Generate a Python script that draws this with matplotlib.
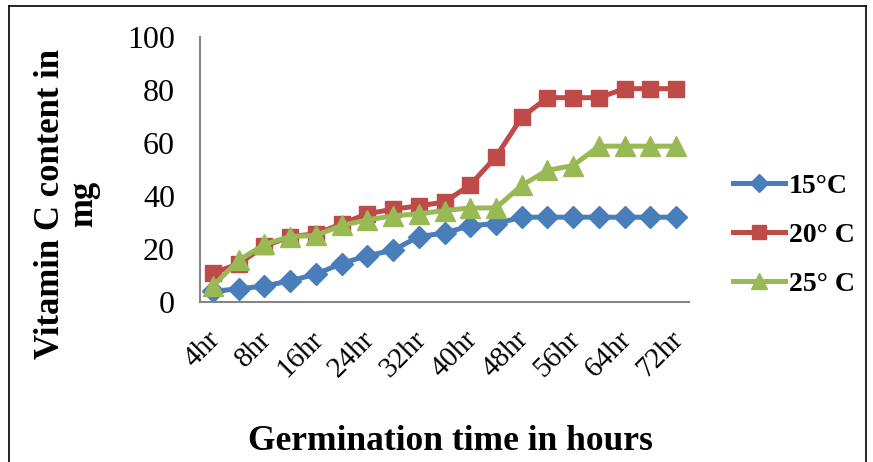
import matplotlib.pyplot as plt
from matplotlib.lines import Line2D

hours = ["4hr", "6hr", "8hr", "12hr", "16hr", "20hr", "24hr", "28hr", "32hr", "36hr",
         "40hr", "44hr", "48hr", "52hr", "56hr", "60hr", "64hr", "68hr", "72hr"]
temp_15 = [4, 5, 6, 8, 10.5, 14.5, 17.5, 19.5, 24.7, 26, 28.8, 29.6, 32, 32, 32, 32, 32, 32, 32]
temp_20 = [10.9, 14.4, 21, 24.7, 25.7, 29.5, 33.3, 35, 36.3, 37.7, 44.2, 54.8, 69.7, 77.1,
           77.1, 77.1, 80.5, 80.5, 80.5]
temp_25 = [6, 15.7, 21.7, 24.7, 25.1, 28.9, 31, 32.5, 33.3, 34.5, 35.5, 35.5, 44, 49.7,
           51.5, 58.8, 58.8, 58.8, 58.8]
names = ["15°C", "20° C", "25° C"]

plt.rcParams['font.family'] = ['Liberation Serif', 'DejaVu Serif']

fig = plt.figure(figsize=(8.73, 4.62), dpi=100)
ax = fig.add_axes([200 / 873, 1 - 302 / 462, 489 / 873, 265 / 462])

x = list(range(len(hours)))
ax.plot(x, temp_15, color="#4A7EBB", lw=3.6, marker="D", ms=11, label=names[0])
ax.plot(x, temp_20, color="#BE4B48", lw=3.6, marker="s", ms=12, label=names[1])
ax.plot(x, temp_25, color="#98B954", lw=3.6, marker="^", ms=14, label=names[2])

ax.set_xlim(-0.5, len(hours) - 0.5)
ax.set_ylim(0, 100)
ax.set_yticks(range(0, 101, 20))
ax.set_xticks(x[::2], labels=[])
# category labels drawn by hand so they can sit a little left of the tick
for xi in x[::2]:
    ax.annotate(hours[xi], xy=(xi, 0), xycoords=("data", "axes fraction"),
                xytext=(-4.5, -17.5), textcoords="offset points", rotation=45,
                ha="right", va="top", rotation_mode="anchor", fontsize=21)
ax.tick_params(axis="y", labelsize=23, length=0, pad=18)
ax.tick_params(axis="x", length=0)
for s in ["top", "right"]:
    ax.spines[s].set_visible(False)
for s in ["left", "bottom"]:
    ax.spines[s].set_color("#868686")
    ax.spines[s].set_linewidth(1.5)

fig.text(450 / 873, 1 - 442 / 462, "Germination time in hours", ha="center", va="center",
         fontsize=25.5, fontweight="bold")
fig.text(67 / 873, 1 - 204 / 462, "Vitamin C content in\nmg", ha="center", va="center",
         rotation=90, fontsize=25, fontweight="bold", linespacing=1.0)

leg = fig.legend(loc="center left", bbox_to_anchor=(722 / 873, 1 - 235 / 462), frameon=False,
                 prop={"weight": "bold", "size": 20}, handlelength=1.85, labelspacing=0.85,
                 handletextpad=0.15, markerscale=0.85, borderaxespad=0)

# outer border of the chart
for xs, ys in [([9, 9], [462, 6]), ([9, 866], [6, 6]), ([866, 866], [6, 462])]:
    fig.add_artist(Line2D([v / 873 for v in xs], [1 - v / 462 for v in ys],
                          color="black", lw=1.2, transform=fig.transFigure))

fig.savefig("out.png", dpi=100)
